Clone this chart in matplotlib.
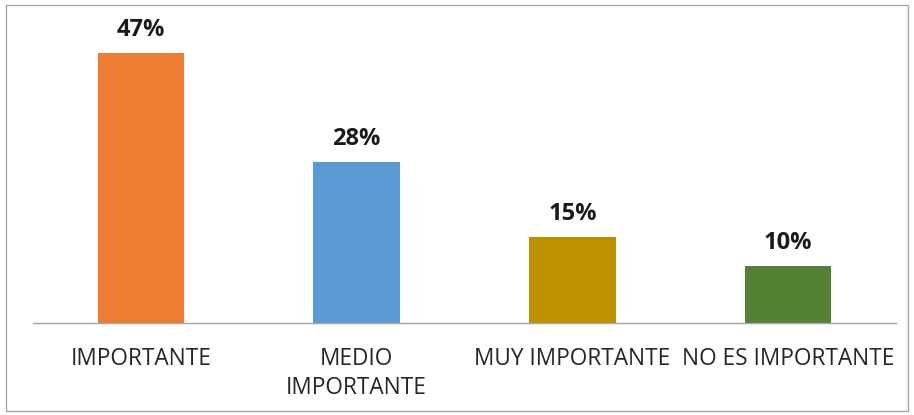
import matplotlib.pyplot as plt
from matplotlib.patches import Rectangle

categories = ['IMPORTANTE', 'MEDIO\nIMPORTANTE', 'MUY IMPORTANTE', 'NO ES IMPORTANTE']
values = [47, 28, 15, 10]
colors = ['#ED7D31', '#5B9BD5', '#BF9000', '#548235']

plt.rcParams['font.family'] = ['Open Sans', 'DejaVu Sans']

fig = plt.figure(figsize=(9.14, 4.15), dpi=100)
ax = fig.add_axes([33 / 914, 1 - 323 / 415, 863 / 914, 303 / 415])

x = range(len(categories))
bars = ax.bar(x, values, width=0.4, color=colors)
for b, v in zip(bars, values):
    ax.text(b.get_x() + b.get_width() / 2, v + 1.9, f'{v}%', ha='center', va='bottom',
            fontsize=17, fontweight='bold', color='#1a1a1a')

ax.set_xlim(-0.5, 3.5)
ax.set_ylim(0, 52.8)
ax.set_xticks(list(x))
ax.set_xticklabels(categories, fontsize=16.3, color='#262626', linespacing=1.3)
ax.tick_params(axis='x', length=0, pad=17)
ax.set_yticks([])
for s in ['top', 'right', 'left']:
    ax.spines[s].set_visible(False)
ax.spines['bottom'].set_color('#a6a6a6')
ax.spines['bottom'].set_linewidth(1)

fig.patches.append(Rectangle((6 / 914, 4 / 415), 902 / 914, 406 / 415, transform=fig.transFigure,
                             fill=False, edgecolor='#a6a6a6', linewidth=1))

fig.savefig('out.png', dpi=100)
